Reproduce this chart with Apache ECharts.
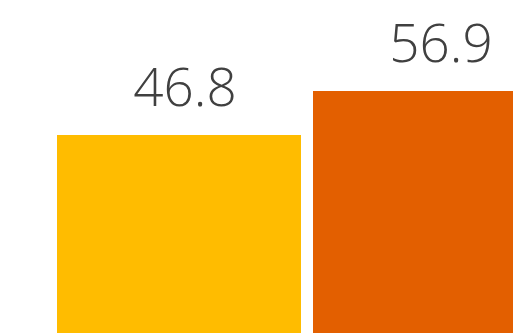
<!DOCTYPE html>
<html><head><meta charset="utf-8">
<script src="https://cdn.jsdelivr.net/npm/echarts@6/dist/echarts.min.js"></script>
<style>html,body{margin:0;padding:0;background:#fff}#c{width:513px;height:333px}</style>
</head><body><div id="c"></div>
<script>
const categories = ['A', 'B'];
const values = [46.8, 56.9];
const colors = ['#FFBC00', '#E35F00'];

const chart = echarts.init(document.getElementById('c'), null, {renderer: 'canvas'});
chart.setOption({
  animation: false,
  grid: {left: 51, width: 512, top: -9.7, height: 348.7, outerBoundsMode: 'none', containLabel: false},
  xAxis: {type: 'category', data: categories, show: false},
  yAxis: {type: 'value', min: 0, max: 80, show: false},
  series: [{
    type: 'bar',
    barWidth: 244,
    data: values.map((v, i) => ({value: v, itemStyle: {color: colors[i]}})),
    label: {
      show: true, position: 'top', distance: 18, offset: [6, 0],
      fontFamily: 'Open Sans', fontWeight: 300, fontSize: 53, color: '#404040'
    }
  }]
});
</script></body></html>
